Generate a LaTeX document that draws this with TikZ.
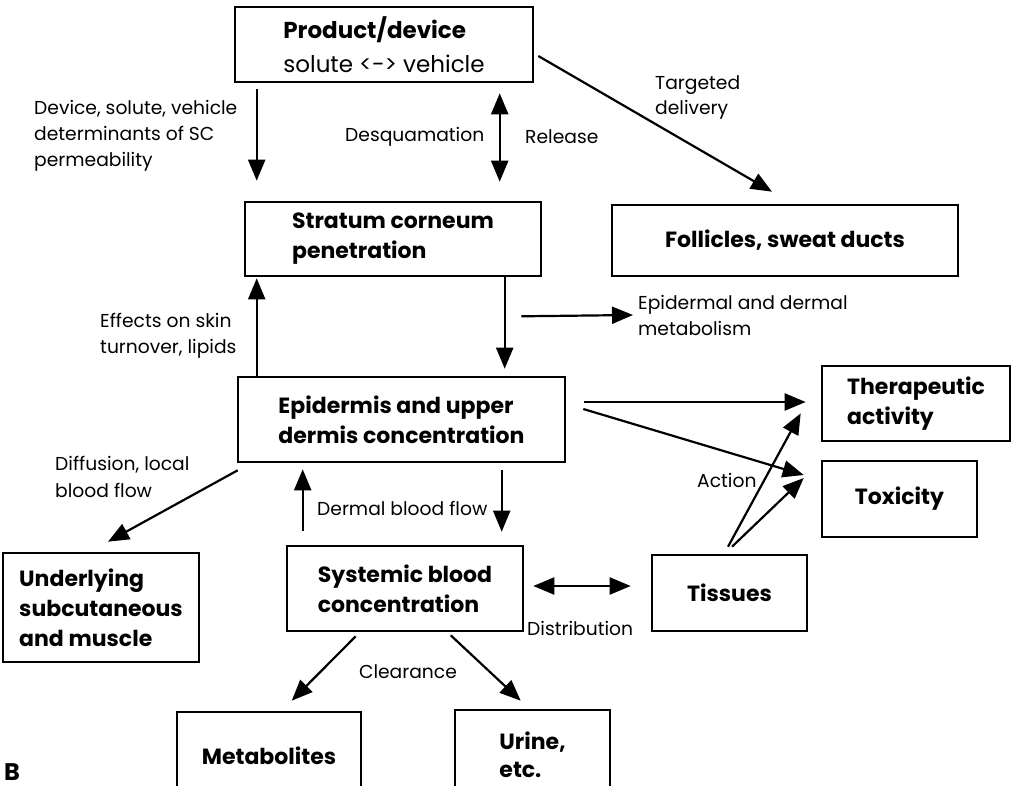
\documentclass[tikz,border=0pt]{standalone}
\usepackage{fontspec}
\setmainfont{Poppins}
\usetikzlibrary{arrows.meta,calc}
\begin{document}
\begin{tikzpicture}[x=1pt,y=-1pt,
  box/.style={draw,line width=2.6pt,rectangle,inner sep=0pt,align=left,
    font=\bfseries\fontsize{22}{30}\selectfont},
  lbl/.style={inner sep=0pt,align=left,anchor=west,font=\fontsize{18.7}{26}\selectfont},
  arr/.style={line width=2.2pt,-{Triangle[length=21pt,width=17pt]}},
  darr/.style={line width=2.2pt,{Triangle[length=21pt,width=17pt]}-{Triangle[length=21pt,width=17pt]}},
]
\useasboundingbox (0,0) rectangle (1016,786);
\fill[white] (0,0) rectangle (1016,786);
\clip (0,0) rectangle (1016,786);

% boxes
\node[box,minimum width=298pt,minimum height=75pt,font=\fontsize{23}{34}\selectfont] (prod) at (384,44.5)
  {\textbf{Product/device}\\solute <-> vehicle};
\node[box,minimum width=296pt,minimum height=74pt] (sc) at (393,239) {Stratum corneum\\penetration};
\node[box,minimum width=346pt,minimum height=71pt] (fol) at (785,240.5) {Follicles, sweat ducts};
\node[box,minimum width=327pt,minimum height=85pt] (epi) at (401.5,419.5) {Epidermis and upper\\dermis concentration};
\node[box,minimum width=188pt,minimum height=75pt] (ther) at (916,403.5) {Therapeutic\\activity};
\node[box,minimum width=155pt,minimum height=76pt] (tox) at (899.5,499) {Toxicity};
\node[box,minimum width=196pt,minimum height=109pt] (und) at (101,607.5) {Underlying\\subcutaneous\\and muscle};
\node[box,minimum width=236pt,minimum height=85pt] (sys) at (405,588.5) {Systemic blood\\concentration};
\node[box,minimum width=155pt,minimum height=76pt] (tis) at (729.5,593) {Tissues};
\node[box,minimum width=184pt,minimum height=88pt] (met) at (269,756) {Metabolites};
\node[box,minimum width=155pt,minimum height=90pt,font=\bfseries\fontsize{22}{28}\selectfont] (uri) at (532.5,755) {Urine,\\etc.};

% labels
\node[lbl] (dev) at (34,136) {Device, solute, vehicle\\determinants of SC\\permeability};
\node[lbl] (desq) at (345,137) {Desquamation};
\node[lbl] (rel) at (525,137) {Release};
\node[lbl,font=\fontsize{18.7}{25}\selectfont] (targ) at (655,97.5) {Targeted\\delivery};
\node[lbl] (eff) at (100,336) {Effects on skin\\turnover, lipids};
\node[lbl] (epid) at (638,315) {Epidermal and dermal\\metabolism};
\node[lbl,font=\fontsize{18.7}{27}\selectfont] (diff) at (55,476.5) {Diffusion, local\\blood flow};
\node[lbl] (dbf) at (317,508) {Dermal blood flow};
\node[lbl] (act) at (697,480) {Action};
\node[lbl] (dist) at (527,628) {Distribution};
\node[lbl,anchor=center] (clr) at (408,672) {Clearance};
\node[inner sep=0pt,anchor=west,font=\bfseries\fontsize{24}{24}\selectfont] (lab) at (4,772) {B};

% connectors
\draw[arr] ($(prod.south west)+(23,6)$) -- ($(sc.north west)+(13,-20)$);
\draw[darr] ($(prod.south west)+(266,10)$) -- ($(sc.north west)+(256,-19)$);
\draw[arr] ($(prod.east)+(4,11.5)$) -- ($(fol.north)+(-13,-12)$);
\draw[arr] ($(sc.south west)+(261,0)$) -- ($(epi.north west)+(268,-7)$);
\draw[arr] ($(epi.north west)+(20,0)$) -- ($(sc.south west)+(13,1)$);
\draw[arr] ($(sc.south east)+(-21,39)$) -- ($(epid.west)+(-5,0)$);
\draw[arr] ($(epi.east)+(18,-17.5)$) -- ($(ther.west)+(-15,-1.5)$);
\draw[arr] ($(epi.east)+(17,-10.5)$) -- ($(tox.west)+(-17,-24)$);
\draw[arr] ($(epi.south west)+(1,7)$) -- ($(und.north)+(7,-10)$);
\draw[arr] ($(sys.north west)+(17,-14)$) -- ($(epi.south west)+(66,6)$);
\draw[arr] ($(epi.south west)+(265,7)$) -- ($(sys.north west)+(216,-13)$);
\draw[darr] ($(sys.east)+(9,-2.5)$) -- ($(tis.west)+(-20,-7)$);
\draw[arr] ($(tis.north)+(-1.5,-7)$) -- ($(ther.south west)+(-20,-29)$);
\draw[arr] ($(tis.north)+(2.5,-7)$) -- ($(tox.west)+(-17,-21)$);
\draw[arr] ($(sys.south west)+(70,4)$) -- ($(met.north west)+(116,-10)$);
\draw[arr] ($(sys.south west)+(165,3)$) -- ($(uri.north west)+(67,-8)$);
\end{tikzpicture}
\end{document}
